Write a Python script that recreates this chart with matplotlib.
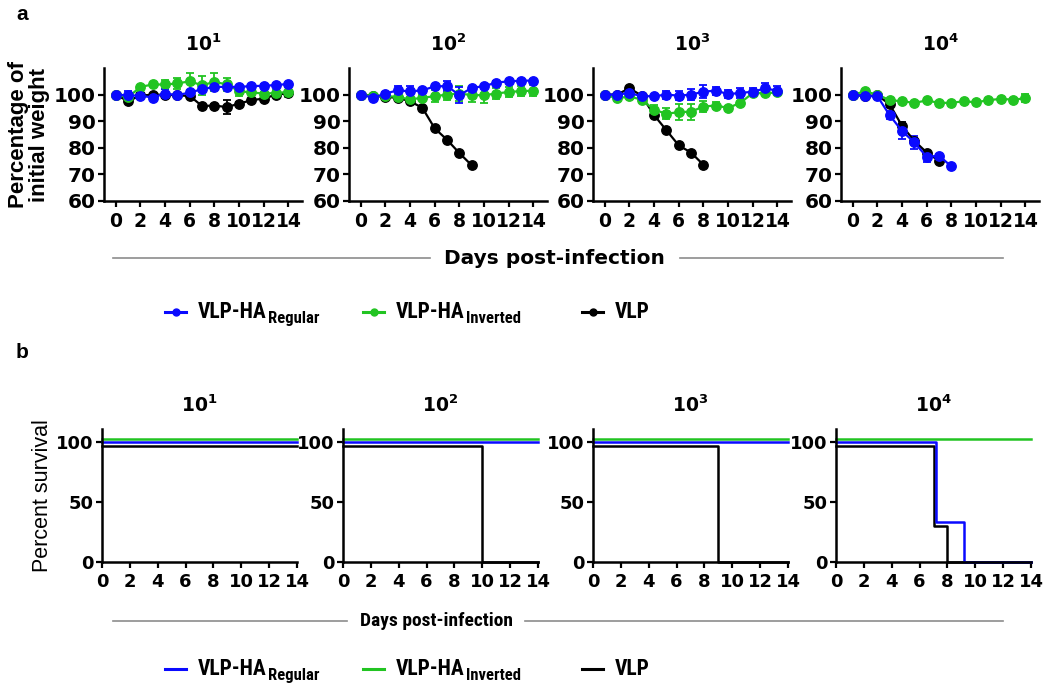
import numpy as np
import matplotlib
matplotlib.use('Agg')
import matplotlib.pyplot as plt
from matplotlib.lines import Line2D
from matplotlib import font_manager
from matplotlib.font_manager import FontProperties

# ---- data ----
doses = ['1', '2', '3', '4']
days = list(range(15))

# weight curves (percentage of initial weight), mean and error
w_regular = [
    [100, 99.7, 99.6, 98.9, 100.4, 99.8, 100.8, 102.0, 102.9, 102.9, 102.9, 103.2, 103.3, 103.6, 104.0],
    [100, 98.8, 100.4, 101.6, 101.2, 101.6, 103.1, 103.2, 99.8, 102.5, 103.2, 104.5, 105.0, 105.2, 105.3],
    [100, 100, 100.6, 99.4, 99.4, 100.0, 99.6, 100.0, 101.1, 101.5, 100.2, 100.6, 101.1, 102.3, 101.5],
    [100, 99.4, 99.4, 92.2, 86.3, 82.0, 76.6, 77.0, 73.0],
]
w_regular_err = [
    [0, 1.7, 0, 0, 1.8, 0.5, 0.5, 0.5, 0.5, 0.5, 0.5, 0.5, 0.5, 0.5, 0.5],
    [0, 0.3, 0.5, 1.7, 2.2, 0.5, 0.5, 1.8, 3.1, 0.5, 0.5, 0.5, 0.5, 0.5, 0.5],
    [0, 0, 0, 0, 0.3, 1.5, 1.8, 2.0, 2.5, 1.5, 1.5, 1.8, 1.5, 2.0, 1.8],
    [0, 0.3, 0.3, 1.5, 3.0, 2.5, 2.0, 0.5, 0],
]
w_inverted = [
    [100, 99.0, 102.9, 103.8, 103.8, 104.2, 105.0, 103.5, 104.8, 103.8, 101.3, 100.8, 100.4, 100.6, 101.0],
    [100, 99.4, 99.5, 99.1, 98.2, 98.8, 99.4, 100.0, 100.4, 99.8, 99.8, 100.4, 101.0, 101.3, 101.5],
    [100, 98.6, 99.3, 98.1, 94.3, 92.8, 93.4, 93.6, 95.5, 95.9, 95.0, 96.9, 100.6, 100.5, 100.8],
    [100, 101.2, 100, 97.9, 97.5, 96.9, 97.8, 96.9, 96.9, 97.5, 97.1, 97.9, 98.4, 98.1, 98.6],
]
w_inverted_err = [
    [0, 0.5, 0.5, 0.5, 1.7, 2.2, 3.3, 3.6, 3.3, 2.5, 1.9, 0.5, 0.5, 1.0, 2.0],
    [0, 0.3, 0.3, 0.3, 0.5, 1.0, 2.2, 2.0, 2.8, 2.5, 3.0, 2.0, 2.0, 2.0, 2.0],
    [0, 0.3, 0.3, 0.3, 1.8, 2.0, 3.0, 3.0, 2.0, 1.5, 0.8, 0.5, 0.5, 0.5, 0.8],
    [0, 0.3, 0.3, 0.3, 0.3, 0.3, 0.3, 0.3, 0.3, 0.3, 0.3, 0.3, 0.3, 0.5, 1.5],
]
w_vlp = [
    [100, 97.5, 99.7, 99.9, 100.0, 99.7, 99.5, 95.7, 95.9, 95.3, 96.6, 97.9, 98.5, 100.0, 100.5],
    [100, 99.5, 99.1, 98.8, 97.5, 95.0, 87.3, 83.0, 78.0, 73.4],
    [100, 100, 102.4, 99.6, 92.3, 86.6, 80.9, 78.2, 73.6],
    [100, 99.4, 99.8, 96.3, 88.2, 82.6, 78.2, 75.1],
]
w_vlp_err = [
    [0, 0.5, 0.3, 0.3, 0.3, 0.3, 0.3, 0.5, 0.5, 2.5, 0.5, 0.5, 0.5, 0.5, 0.5],
    [0, 0.3, 0.3, 0.3, 0.3, 0.3, 0.3, 0.3, 0.3, 0],
    [0, 0.3, 0.5, 0.3, 0.5, 0.3, 0.3, 0.3, 0],
    [0, 0.3, 0.3, 1.0, 1.5, 1.0, 0.5, 0.5],
]

# survival step curves: (times, percent) per dose, as drawn
s_regular_t = [[0, 14], [0, 14], [0, 14], [0, 7.2, 9.2, 14]]
s_regular_v = [[100, 100], [100, 100], [100, 100], [100, 33, 0, 0]]
s_inverted_t = [[0, 14], [0, 14], [0, 14], [0, 14]]
s_inverted_v = [[103, 103], [103, 103], [103, 103], [103, 103]]
s_vlp_t = [[0, 14], [0, 10, 14], [0, 9, 14], [0, 7, 8, 14]]
s_vlp_v = [[97, 97], [97, 0, 0], [97, 0, 0], [97, 30, 0, 0]]

legend_main = ['VLP-HA', 'VLP-HA', 'VLP']
legend_sub = ['Regular', 'Inverted', '']
colors = ['#0a0aff', '#22c422', '#000000']


# ---- fonts ----
def find_condensed_bold():
    prefer = ['Liberation Sans Narrow', 'Roboto Condensed', 'Arial Narrow', 'Noto Sans',
              'Open Sans', 'Roboto', 'DejaVu Sans']
    found = {}
    for f in font_manager.fontManager.ttflist:
        w = f.weight
        if isinstance(w, str):
            w = font_manager.weight_dict.get(w, 400)
        narrow_name = 'Narrow' in f.name or 'Condensed' in f.name
        narrow_stretch = str(f.stretch) in ('condensed', 'semi-condensed', 'extra-condensed')
        if 600 <= w <= 750 and (narrow_name or narrow_stretch) and 'Oblique' not in f.fname \
                and 'Italic' not in f.fname:
            found.setdefault(f.name, f.fname)
    for p in prefer:
        if p in found:
            return found[p]
    if found:
        return list(found.values())[0]
    return None


cond_file = find_condensed_bold()


def cond_font(size):
    if cond_file:
        return FontProperties(fname=cond_file, size=size)
    return FontProperties(family='Liberation Sans', weight='bold', size=size * 0.82)


wide = 'DejaVu Sans'
plt.rcParams['font.family'] = ['Liberation Sans', 'DejaVu Sans']
plt.rcParams['mathtext.fontset'] = 'custom'
plt.rcParams['mathtext.bf'] = 'DejaVu Sans:bold'

W, H = 1050, 687
fig = plt.figure(figsize=(W / 100, H / 100), dpi=100)


def rect(x0, top, w, h):
    return [x0 / W, 1 - (top + h) / H, w / W, h / H]


def style(ax, ysize, xsize):
    for s in ['top', 'right']:
        ax.spines[s].set_visible(False)
    for s in ['left', 'bottom']:
        ax.spines[s].set_linewidth(1.8)
    ax.tick_params(width=1.6, length=4, pad=2)
    ax.tick_params(axis='x', pad=4)
    for lab in ax.get_yticklabels():
        lab.set_fontproperties(FontProperties(family=wide, weight='bold', size=ysize))
    for lab in ax.get_xticklabels():
        lab.set_fontproperties(FontProperties(family=wide, weight='bold', size=xsize))


# ---- top row: weight ----
top_lefts = [104, 349, 593, 841]
for i, d in enumerate(doses):
    ax = fig.add_axes(rect(top_lefts[i], 68, 198, 133))
    for vals, errs, c in [(w_vlp[i], w_vlp_err[i], colors[2]),
                          (w_inverted[i], w_inverted_err[i], colors[1]),
                          (w_regular[i], w_regular_err[i], colors[0])]:
        ax.errorbar(days[:len(vals)], vals, yerr=errs, color=c, marker='o', ms=6.8,
                    lw=1.6, capsize=3, elinewidth=1.3, capthick=1.3, clip_on=False)
    ax.set_xlim(-0.95, 15.1)
    ax.set_ylim(60, 110)
    ax.set_xticks(range(0, 15, 2))
    ax.set_yticks([60, 70, 80, 90, 100])
    style(ax, 14.5, 13.5)
    ax.set_title('$\\mathbf{10^{%s}}$' % d, fontsize=13.5, pad=12)
    if i == 0:
        ax.set_ylabel('Percentage of\ninitial weight', fontsize=16, fontweight='bold',
                      labelpad=3, linespacing=0.95)

# ---- bottom row: survival ----
bot_lefts = [102, 343, 593, 836]
for i, d in enumerate(doses):
    ax = fig.add_axes(rect(bot_lefts[i], 429, 195, 133))
    for t, v, c in [(s_vlp_t[i], s_vlp_v[i], colors[2]),
                    (s_regular_t[i], s_regular_v[i], colors[0]),
                    (s_inverted_t[i], s_inverted_v[i], colors[1])]:
        ax.step(t, v, where='post', color=c, lw=1.8, clip_on=False)
    ax.set_xlim(0, 14)
    ax.set_ylim(0, 111)
    ax.set_xticks(range(0, 15, 2))
    ax.set_yticks([0, 50, 100])
    style(ax, 13, 13)
    ax.set_title('$\\mathbf{10^{%s}}$' % d, fontsize=13.5, pad=12)
    if i == 0:
        ax.set_ylabel('Percent survival', fontsize=15.5, fontweight='normal', labelpad=2)

# ---- figure decorations ----
fig.text(22 / W, 1 - 15 / H, 'a', fontsize=15, fontweight='bold', ha='center', va='center')
fig.text(22 / W, 1 - 352 / H, 'b', fontsize=15, fontweight='bold', ha='center', va='center')

gray = '#8c8c8c'
fig.text(554 / W, 1 - 258 / H, 'Days post-infection', ha='center', va='center',
         fontproperties=FontProperties(family=wide, weight='bold', size=14.5))
fig.add_artist(Line2D([113 / W, 430 / W], [1 - 258 / H] * 2, color=gray, lw=1.2))
fig.add_artist(Line2D([680 / W, 1003 / W], [1 - 258 / H] * 2, color=gray, lw=1.2))

fig.text(437 / W, 1 - 621 / H, 'Days post-infection', ha='center', va='center',
         fontproperties=cond_font(14))
fig.add_artist(Line2D([113 / W, 347 / W], [1 - 621 / H] * 2, color=gray, lw=1.2))
fig.add_artist(Line2D([525 / W, 1003 / W], [1 - 621 / H] * 2, color=gray, lw=1.2))

# legends: handle line + condensed label with subscript
renderer = fig.canvas.get_renderer()
leg_x = [165, 363, 582]
for ybase, with_marker in [(318, True), (675, False)]:
    for j in range(3):
        yc = ybase - 6
        fig.add_artist(Line2D([leg_x[j] / W, (leg_x[j] + 10.5) / W, (leg_x[j] + 21) / W],
                              [1 - yc / H] * 3, color=colors[j], lw=2.2,
                              marker='o' if with_marker else None, ms=5, markevery=[1]))
        t = fig.text((leg_x[j] + 33) / W, 1 - ybase / H, legend_main[j], va='baseline',
                     ha='left', fontproperties=cond_font(15.5))
        if legend_sub[j]:
            bb = t.get_window_extent(renderer)
            fig.text((bb.x1 + 1) / W, 1 - (ybase + 5) / H, legend_sub[j], va='baseline',
                     ha='left', fontproperties=cond_font(12))

fig.savefig('out.png', dpi=100)
